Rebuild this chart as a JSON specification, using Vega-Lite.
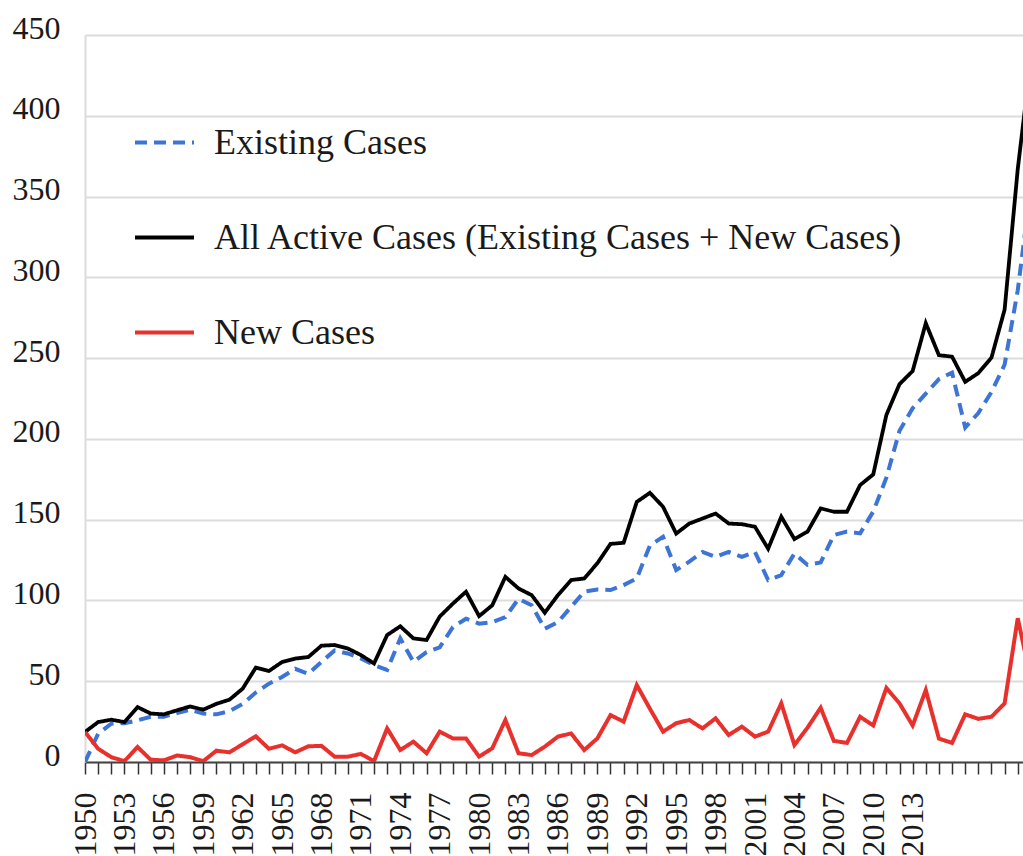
{
  "$schema": "https://vega.github.io/schema/vega-lite/v6.json",
  "width": 938,
  "height": 727,
  "autosize": {"type": "none"},
  "padding": {"left": 85, "top": 35, "right": 0, "bottom": 94},
  "background": "white",
  "config": {"view": {"stroke": null}, "font": "Liberation Serif"},
  "data": {"values": [
    {"year":1950,"existing":0,"all":18.6,"new":18.6},
    {"year":1951,"existing":17.5,"all":24.7,"new":8.2},
    {"year":1952,"existing":23.7,"all":26.2,"new":3},
    {"year":1953,"existing":24,"all":24.7,"new":0.5},
    {"year":1954,"existing":25.8,"all":34,"new":9.3},
    {"year":1955,"existing":28,"all":30,"new":1.4},
    {"year":1956,"existing":28,"all":29.5,"new":1},
    {"year":1957,"existing":30.3,"all":32,"new":4},
    {"year":1958,"existing":32.4,"all":34.4,"new":3},
    {"year":1959,"existing":30,"all":32.4,"new":0.5},
    {"year":1960,"existing":29.5,"all":36,"new":7},
    {"year":1961,"existing":31.5,"all":38.6,"new":6},
    {"year":1962,"existing":36,"all":45.4,"new":11},
    {"year":1963,"existing":43,"all":58.4,"new":15.9},
    {"year":1964,"existing":48.5,"all":56.3,"new":8.2},
    {"year":1965,"existing":52.6,"all":61.9,"new":10.3},
    {"year":1966,"existing":57.7,"all":64,"new":6},
    {"year":1967,"existing":54.6,"all":65,"new":9.7},
    {"year":1968,"existing":62,"all":72,"new":10},
    {"year":1969,"existing":69,"all":72.4,"new":3.3},
    {"year":1970,"existing":67.2,"all":70.3,"new":3.3},
    {"year":1971,"existing":64.1,"all":66.2,"new":5},
    {"year":1972,"existing":60,"all":61,"new":0.5},
    {"year":1973,"existing":57,"all":78.6,"new":20.8},
    {"year":1974,"existing":76.5,"all":84,"new":7.4},
    {"year":1975,"existing":62,"all":76.5,"new":12.6},
    {"year":1976,"existing":68,"all":75.5,"new":5.4},
    {"year":1977,"existing":71,"all":90,"new":18.8},
    {"year":1978,"existing":83.5,"all":98,"new":14.6},
    {"year":1979,"existing":88.7,"all":105.4,"new":14.6},
    {"year":1980,"existing":85.6,"all":90.3,"new":3.3},
    {"year":1981,"existing":86.6,"all":97,"new":8.5},
    {"year":1982,"existing":89.7,"all":114.6,"new":26},
    {"year":1983,"existing":101,"all":107.4,"new":5.4},
    {"year":1984,"existing":97,"all":103.3,"new":4.3},
    {"year":1985,"existing":82.5,"all":92.4,"new":9.5},
    {"year":1986,"existing":86.6,"all":103.3,"new":15.7},
    {"year":1987,"existing":96,"all":112.6,"new":17.7},
    {"year":1988,"existing":105.4,"all":113.6,"new":7.4},
    {"year":1989,"existing":106.8,"all":123,"new":14.6},
    {"year":1990,"existing":106.4,"all":135,"new":29},
    {"year":1991,"existing":109.5,"all":135.7,"new":25},
    {"year":1992,"existing":113.6,"all":161,"new":47.6},
    {"year":1993,"existing":134,"all":166.6,"new":33},
    {"year":1994,"existing":139.4,"all":158,"new":18.8},
    {"year":1995,"existing":118.8,"all":141.4,"new":24},
    {"year":1996,"existing":124,"all":147.6,"new":26},
    {"year":1997,"existing":130,"all":150.7,"new":20.8},
    {"year":1998,"existing":127,"all":153.8,"new":27},
    {"year":1999,"existing":130,"all":147.6,"new":16.7},
    {"year":2000,"existing":127,"all":147.2,"new":21.9},
    {"year":2001,"existing":130,"all":145.6,"new":15.7},
    {"year":2002,"existing":112.6,"all":132,"new":18.8},
    {"year":2003,"existing":115.7,"all":151.8,"new":36.3},
    {"year":2004,"existing":129,"all":138,"new":10.5},
    {"year":2005,"existing":122,"all":142.6,"new":21.3},
    {"year":2006,"existing":123.5,"all":157,"new":33.6},
    {"year":2007,"existing":140.5,"all":154.9,"new":13.1},
    {"year":2008,"existing":142.6,"all":154.9,"new":11.8},
    {"year":2009,"existing":141.5,"all":171.4,"new":28},
    {"year":2010,"existing":155,"all":178,"new":22.6},
    {"year":2011,"existing":176,"all":214.8,"new":45.8},
    {"year":2012,"existing":205,"all":233.9,"new":36.3},
    {"year":2013,"existing":219,"all":242,"new":22.6},
    {"year":2014,"existing":228,"all":271.6,"new":44.5},
    {"year":2015,"existing":237,"all":251.8,"new":14.5},
    {"year":2016,"existing":241,"all":250.9,"new":11.8},
    {"year":2017,"existing":207,"all":235.3,"new":29.5},
    {"year":2018,"existing":216,"all":240.7,"new":26.7},
    {"year":2019,"existing":229,"all":250.3,"new":28},
    {"year":2020,"existing":246,"all":280,"new":36.3},
    {"year":2021,"existing":292,"all":367,"new":89},
    {"year":2022,"existing":356,"all":435,"new":51}
  ]},
  "transform": [{"fold": ["existing", "all", "new"], "as": ["series", "value"]}],
  "encoding": {
    "x": {
      "field": "year", "type": "quantitative",
      "scale": {"domain": [1950, 2021.4], "nice": false, "zero": false},
      "axis": {
        "title": null,
        "values": [1950,1951,1952,1953,1954,1955,1956,1957,1958,1959,1960,1961,1962,1963,1964,1965,1966,1967,1968,1969,1970,1971,1972,1973,1974,1975,1976,1977,1978,1979,1980,1981,1982,1983,1984,1985,1986,1987,1988,1989,1990,1991,1992,1993,1994,1995,1996,1997,1998,1999,2000,2001,2002,2003,2004,2005,2006,2007,2008,2009,2010,2011,2012,2013,2014,2015,2016,2017,2018,2019,2020,2021],
        "grid": false,
        "ticks": true, "tickSize": 12, "tickWidth": 1.5, "tickColor": "#333333",
        "domain": true, "domainColor": "#444444", "domainWidth": 2,
        "labelAngle": -90, "labelAlign": "right", "labelBaseline": "middle",
        "labelPadding": 18, "labelFont": "Liberation Serif", "labelFontSize": 32, "labelColor": "#1a1a1a",
        "labelOverlap": false, "labelFlush": false,
        "labelExpr": "((datum.value - 1950) % 3 === 0 && datum.value <= 2013) ? '' + datum.value : ''"
      }
    },
    "y": {
      "field": "value", "type": "quantitative",
      "scale": {"domain": [0, 450], "nice": false},
      "axis": {
        "title": null,
        "values": [0,50,100,150,200,250,300,350,400,450],
        "grid": true, "gridColor": "#dcdcdc", "gridWidth": 2,
        "ticks": false,
        "domain": true, "domainColor": "#dcdcdc", "domainWidth": 2,
        "labelFont": "Liberation Serif", "labelFontSize": 32, "labelColor": "#1a1a1a",
        "labelPadding": 25, "labelOffset": -7
      }
    },
    "color": {
      "field": "series", "type": "nominal",
      "scale": {"domain": ["existing", "all", "new"], "range": ["#3D74D6", "#000000", "#E8302C"]},
      "legend": {
        "title": null, "orient": "none", "legendX": 48, "legendY": 76, "direction": "vertical",
        "symbolType": "stroke", "symbolSize": 3481, "symbolStrokeWidth": 4,
        "labelFont": "Liberation Serif", "labelFontSize": 36, "labelColor": "#1a1a1a", "labelLimit": 0,
        "labelOffset": 18, "rowPadding": 45, "padding": 0,
        "labelExpr": "datum.label === 'existing' ? 'Existing Cases' : (datum.label === 'all' ? 'All Active Cases (Existing Cases + New Cases)' : 'New Cases')"
      }
    },
    "strokeDash": {
      "field": "series", "type": "nominal",
      "scale": {"domain": ["existing", "all", "new"], "range": [[12, 7], [1, 0], [1, 0]]},
      "legend": {
        "title": null, "orient": "none", "legendX": 48, "legendY": 76, "direction": "vertical",
        "symbolType": "stroke", "symbolSize": 3481, "symbolStrokeWidth": 4,
        "labelFont": "Liberation Serif", "labelFontSize": 36, "labelColor": "#1a1a1a", "labelLimit": 0,
        "labelOffset": 18, "rowPadding": 45, "padding": 0,
        "labelExpr": "datum.label === 'existing' ? 'Existing Cases' : (datum.label === 'all' ? 'All Active Cases (Existing Cases + New Cases)' : 'New Cases')"
      }
    }
  },
  "layer": [
    {"transform": [{"filter": "datum.series === 'existing'"}], "mark": {"type": "line", "strokeWidth": 4, "clip": true}},
    {"transform": [{"filter": "datum.series === 'all'"}], "mark": {"type": "line", "strokeWidth": 3.8, "clip": true}},
    {"transform": [{"filter": "datum.series === 'new'"}], "mark": {"type": "line", "strokeWidth": 4, "clip": true}}
  ]
}
